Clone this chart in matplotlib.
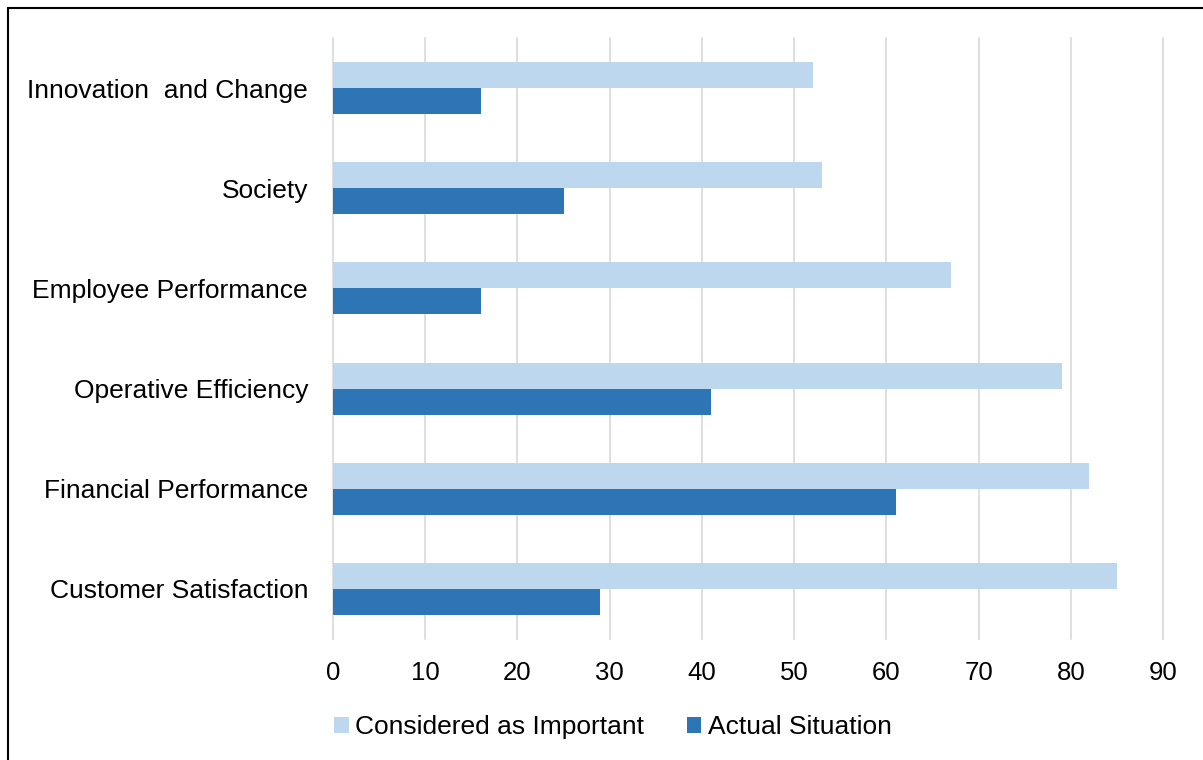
import matplotlib.pyplot as plt
import numpy as np
from matplotlib.patches import Rectangle

categories = ["Customer Satisfaction", "Financial Performance", "Operative Efficiency",
              "Employee Performance", "Society", "Innovation  and Change"]
important = [85, 82, 79, 67, 53, 52]
actual = [29, 61, 41, 16, 25, 16]
xticks = [0, 10, 20, 30, 40, 50, 60, 70, 80, 90]

plt.rcParams['font.family'] = ['Liberation Sans', 'DejaVu Sans']

fig = plt.figure(figsize=(12.03, 7.6), dpi=100)
ax = fig.add_axes([333/1203, 121/760, 830/1203, 601/760])

y = np.arange(len(categories))
h = 0.26
ax.barh(y + h/2, important, height=h, color='#BDD7EE', label='Considered as Important', zorder=3)
ax.barh(y - h/2, actual, height=h, color='#2E75B6', label='Actual Situation', zorder=3)

ax.set_xlim(0, 90)
ax.set_ylim(-0.5, 5.5)
ax.set_xticks(xticks)
ax.set_yticks(y)
ax.set_yticklabels(categories, fontsize=19)
ax.tick_params(axis='x', labelsize=18.5, length=0, pad=16)
ax.tick_params(axis='y', length=0, pad=18)
ax.grid(axis='x', color='#D9D9D9', linewidth=1.2, zorder=0)
for gl in ax.get_xgridlines():
    gl.set_clip_on(False)
for s in ax.spines.values():
    s.set_visible(False)

# legend below the plot
fig.legend(loc='center', bbox_to_anchor=(613/1203, 1 - 727/760), ncol=2, frameon=False,
           fontsize=19, handlelength=0.55, handleheight=0.55, handletextpad=0.25,
           columnspacing=1.6)

# outer frame
fig.patches.append(Rectangle((8/1203, -0.1), 1.2, (752/760) + 0.1, transform=fig.transFigure,
                             fill=False, edgecolor='black', linewidth=1.5))

fig.savefig('out.png', dpi=100)
